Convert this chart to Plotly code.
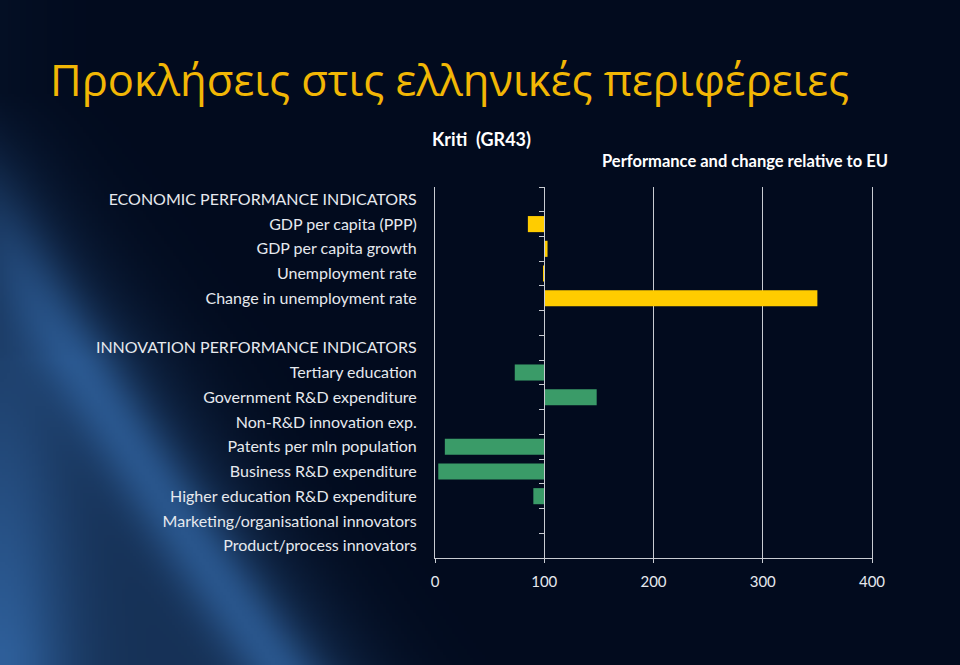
import base64, zlib, struct
import numpy as np
import plotly.graph_objects as go

# ---------------- data ----------------
categories = [
    "ECONOMIC PERFORMANCE INDICATORS",
    "GDP per capita (PPP)",
    "GDP per capita growth",
    "Unemployment rate",
    "Change in unemployment rate",
    " ",
    "INNOVATION PERFORMANCE INDICATORS",
    "Tertiary education",
    "Government R&D expenditure",
    "Non-R&D innovation exp.",
    "Patents per mln population",
    "Business R&D expenditure",
    "Higher education R&D expenditure",
    "Marketing/organisational innovators",
    "Product/process innovators",
]
economic_labels = ["GDP per capita (PPP)", "GDP per capita growth",
                   "Unemployment rate", "Change in unemployment rate"]
economic_values = [85, 103, 99, 350]
innovation_labels = ["Tertiary education", "Government R&D expenditure",
                     "Non-R&D innovation exp.", "Patents per mln population",
                     "Business R&D expenditure", "Higher education R&D expenditure",
                     "Marketing/organisational innovators", "Product/process innovators"]
innovation_values = [73, 148, None, 9, 3, 90, None, None]
eu_baseline = 100
x_ticks = [0, 100, 200, 300, 400]

# ---------------- background image ----------------
def make_png(arr):
    h, w, _ = arr.shape
    raw = b"".join(b"\x00" + arr[i].tobytes() for i in range(h))
    def chunk(t, d):
        c = struct.pack(">I", len(d)) + t + d
        return c + struct.pack(">I", zlib.crc32(t + d) & 0xffffffff)
    png = b"\x89PNG\r\n\x1a\n" + chunk(b"IHDR", struct.pack(">IIBBBBB", w, h, 8, 2, 0, 0, 0))
    png += chunk(b"IDAT", zlib.compress(raw, 9)) + chunk(b"IEND", b"")
    return "data:image/png;base64," + base64.b64encode(png).decode()

W, H = 320, 222
yy, xx = np.mgrid[0:H, 0:W].astype(float)
px = xx * 3.0
py = yy * 3.0
base = np.array([2, 11, 30], float)
t = np.clip((py - 100) / 565.0, 0, 1)
xb = 330 * t ** 1.2 + 20
inside = 1 / (1 + np.exp(-(xb - px) / 35.0))
streak = np.exp(-((px - (xb - 70)) / 45.0) ** 2)
edge = np.exp(-(px / 70.0) ** 2) * np.clip((py - 350) / 300.0, 0, 1)
fade_top = np.clip((py - 60) / 300.0, 0.1, 1)
g = np.clip((0.30 * inside + 0.35 * streak * inside + 0.25 * edge + 0.1 * np.exp(-(px / 60.0) ** 2)) * fade_top, 0, 0.85)[..., None]
blue = np.array([70, 140, 220], float)
img = base * (1 - g) + blue * g
img = np.clip(img, 0, 255).astype(np.uint8)
bg_uri = make_png(img)

# ---------------- figure ----------------
FW, FH = 960, 665
L, R, T, B = 435, 88, 187, 107
PW, PH = FW - L - R, FH - T - B

def pxx(x):
    return (x - L) / PW

def pxy(y):
    return 1 - (y - T) / PH

label_font = dict(family="Lato, 'Open Sans', sans-serif", size=16, color="#e6e9ee")
grid_col = "#c9ccd2"
n = len(categories)

fig = go.Figure()
fig.add_trace(go.Bar(
    y=economic_labels,
    x=[v - eu_baseline for v in economic_values],
    base=eu_baseline, orientation="h",
    marker=dict(color="#FFCC00", line=dict(width=0)),
    showlegend=False, hoverinfo="skip",
))
fig.add_trace(go.Bar(
    y=innovation_labels,
    x=[(v - eu_baseline) if v is not None else None for v in innovation_values],
    base=eu_baseline, orientation="h",
    marker=dict(color="#3A9B68", line=dict(width=0)),
    showlegend=False, hoverinfo="skip",
))
fig.add_trace(go.Scatter(
    x=[None] * n, y=categories, yaxis="y2",
    mode="markers", showlegend=False, hoverinfo="skip",
))

fig.update_layout(
    width=FW, height=FH,
    margin=dict(l=L, r=R, t=T, b=B),
    paper_bgcolor="#020b1e", plot_bgcolor="rgba(0,0,0,0)",
    bargap=0.35, barmode="overlay",
    images=[dict(source=bg_uri, xref="paper", yref="paper",
                 x=pxx(0), y=pxy(0), sizex=FW / PW, sizey=FH / PH,
                 xanchor="left", yanchor="top", sizing="stretch", layer="below")],
    xaxis=dict(
        range=[0, 400], tickvals=x_ticks, ticktext=[str(t) for t in x_ticks],
        showgrid=True, gridcolor=grid_col, gridwidth=1, zeroline=False,
        showline=True, linecolor=grid_col, linewidth=1,
        ticks="outside", ticklen=4, tickcolor=grid_col,
        tickfont=dict(family="Lato, 'Open Sans', sans-serif", size=15, color="#e6e9ee"),
        ticklabelstandoff=6,
    ),
    yaxis=dict(
        type="category", categoryorder="array", categoryarray=categories,
        range=[n - 0.5, -0.5],
        showgrid=False, zeroline=False,
        showline=True, mirror=True, linecolor=grid_col, linewidth=1,
        ticks="", tickfont=label_font, ticklabelstandoff=14,
    ),
    yaxis2=dict(
        type="category", categoryorder="array", categoryarray=categories,
        range=[n - 0.5, -0.5],
        overlaying="y", anchor="free", position=0.25, side="left",
        showgrid=False, zeroline=False, showticklabels=False,
        showline=True, linecolor=grid_col, linewidth=1,
        ticks="outside", tickson="boundaries", ticklen=5, tickcolor=grid_col,
    ),
    annotations=[
        dict(text="Προκλήσεις στις ελληνικές περιφέρειες", xref="paper", yref="paper",
             x=pxx(48), y=pxy(80), xanchor="left", yanchor="middle", showarrow=False,
             font=dict(family="'Open Sans', Lato, sans-serif", size=43.5, color="#F2B705")),
        dict(text="<b>Kriti  (GR43)</b>", xref="paper", yref="paper",
             x=pxx(481), y=pxy(139), xanchor="center", yanchor="middle", showarrow=False,
             font=dict(family="Lato, 'Open Sans', sans-serif", size=18, color="#ffffff")),
        dict(text="<b>Performance and change relative to EU</b>", xref="paper", yref="paper",
             x=pxx(890), y=pxy(161), xanchor="right", yanchor="middle", showarrow=False,
             font=dict(family="Lato, 'Open Sans', sans-serif", size=16.5, color="#ffffff")),
    ],
)

fig.write_html("out.html")
